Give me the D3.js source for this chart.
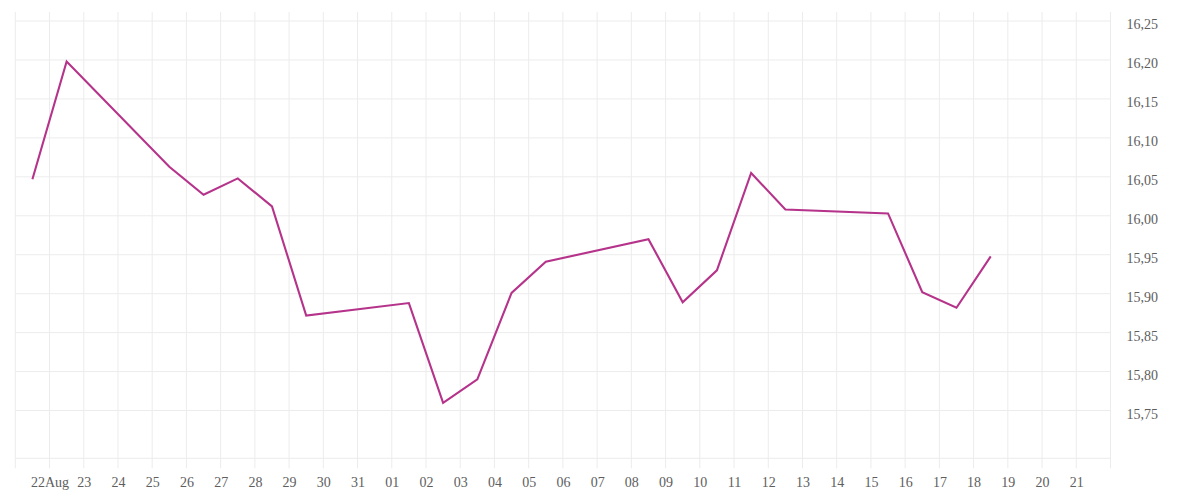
<!DOCTYPE html>
<html>
<head>
<meta charset="utf-8">
<script src="https://cdn.jsdelivr.net/npm/d3@7/dist/d3.min.js"></script>
<style>
  html, body { margin: 0; padding: 0; background: #fff; }
  svg { display: block; }
  .tick text { font-family: "Liberation Serif", serif; font-size: 14px; fill: #5e5e5e; }
</style>
</head>
<body>
<svg id="chart" width="1200" height="500"></svg>
<script>
// ---- data ----
const dates = ["2025-08-21","2025-08-22","2025-08-25","2025-08-26","2025-08-27","2025-08-28","2025-08-29",
  "2025-09-01","2025-09-02","2025-09-03","2025-09-04","2025-09-05",
  "2025-09-08","2025-09-09","2025-09-10","2025-09-11","2025-09-12",
  "2025-09-15","2025-09-16","2025-09-17","2025-09-18"];
const values = [16.047,16.198,16.063,16.027,16.048,16.012,15.872,
  15.888,15.760,15.790,15.901,15.941,
  15.970,15.889,15.930,16.055,16.008,
  16.003,15.902,15.882,15.948];
const xTickLabels = ["22Aug","23","24","25","26","27","28","29","30","31",
  "01","02","03","04","05","06","07","08","09","10","11","12","13","14","15","16","17","18","19","20","21"];
const yTickValues = [15.75,15.80,15.85,15.90,15.95,16.00,16.05,16.10,16.15,16.20,16.25];
const yTickLabels = ["15,75","15,80","15,85","15,90","15,95","16,00","16,05","16,10","16,15","16,20","16,25"];

// ---- layout ----
const mLeft = 15.3, mRight = 1110.5, mTop = 12, mBottom = 458.3, tickExt = 10;
const svg = d3.select("#chart");
const parse = d3.utcParse("%Y-%m-%d");
const xStart = parse("2025-08-21"), xEnd = parse("2025-09-22");
const x = d3.scaleUtc().domain([xStart, xEnd]).range([mLeft, mRight]);
const y = d3.scaleLinear().domain([15.6887, 16.2616]).range([mBottom, mTop]);

const gridColor = "#ececec";
// vertical gridlines (every day boundary)
const allDays = d3.utcDay.range(xStart, d3.utcDay.offset(xEnd, 1));
svg.append("g").selectAll("line").data(allDays).join("line")
  .attr("x1", d => x(d)).attr("x2", d => x(d))
  .attr("y1", mTop).attr("y2", mBottom + tickExt)
  .attr("stroke", gridColor).attr("stroke-width", 1);
// horizontal gridlines
svg.append("g").selectAll("line").data(yTickValues.concat([y.domain()[0]])).join("line")
  .attr("x1", mLeft).attr("x2", mRight)
  .attr("y1", d => y(d)).attr("y2", d => y(d))
  .attr("stroke", gridColor).attr("stroke-width", 1);

// x axis labels
const tickDates = d3.utcDay.range(parse("2025-08-22"), parse("2025-09-22"));
const xAxis = d3.axisBottom(x).tickValues(tickDates)
  .tickFormat((d, i) => xTickLabels[i]).tickSize(0).tickPadding(0);
const gx = svg.append("g").attr("transform", `translate(0,${mBottom + 19})`).call(xAxis);
gx.select(".domain").remove();
gx.selectAll(".tick text").attr("dy", "0.71em");

// y axis labels (right)
const yAxis = d3.axisRight(y).tickValues(yTickValues)
  .tickFormat((d, i) => yTickLabels[i]).tickSize(0).tickPadding(0);
const gy = svg.append("g").attr("transform", `translate(${mRight + 16},0)`).call(yAxis);
gy.select(".domain").remove();
gy.selectAll(".tick text").attr("dy", "0.55em");

// line
const pts = dates.map((d, i) => ({ t: d3.utcHour.offset(parse(d), 12), v: values[i] }));
const line = d3.line().x(d => x(d.t)).y(d => y(d.v));
svg.append("path").datum(pts)
  .attr("d", line)
  .attr("fill", "none")
  .attr("stroke", "#b5338a")
  .attr("stroke-width", 2.1)
  .attr("stroke-linejoin", "miter");
</script>
</body>
</html>
